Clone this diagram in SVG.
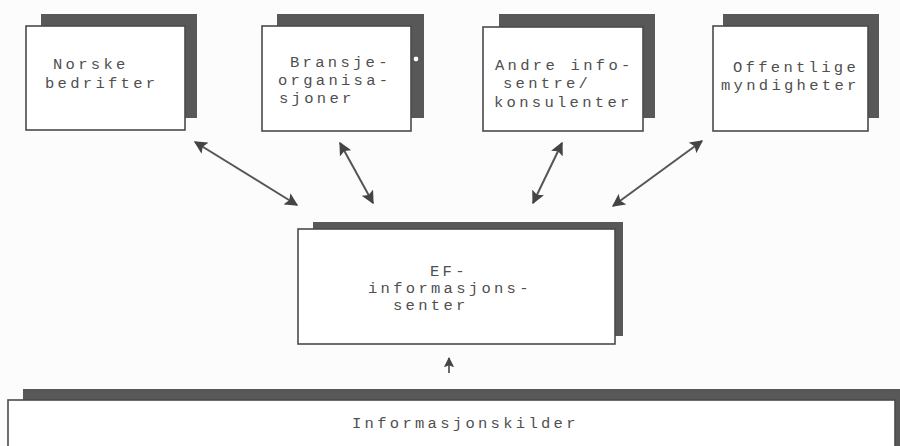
<svg xmlns="http://www.w3.org/2000/svg" width="900" height="446" viewBox="0 0 900 446">
<style>
.shadow{fill:#585858;}
.box{fill:#ffffff;stroke:#4a4a4a;stroke-width:1.6;}
.t{font-family:"Liberation Mono","DejaVu Sans Mono",monospace;font-size:15.5px;letter-spacing:3.3px;fill:#4f4f4f;}
.conn{stroke:#555;stroke-width:2;fill:none;marker-start:url(#ah);marker-end:url(#ah);}
.up{stroke:#444;stroke-width:1.6;fill:none;marker-end:url(#ah);}
</style>
<defs>
<marker id="ah" viewBox="0 0 10 10" refX="9" refY="5" markerWidth="6.5" markerHeight="6.5" orient="auto-start-reverse" markerUnits="strokeWidth">
<path d="M0,0 L10,5 L0,10 L2,5 Z" fill="#444"/>
</marker>
</defs>
<rect width="900" height="446" fill="#fcfcfc"/>

<g id="norske">
<rect class="shadow" x="41" y="14" width="156" height="104"/>
<rect class="box" x="26" y="26" width="159" height="104"/>
<text class="t" x="53" y="69">Norske</text>
<text class="t" x="45" y="88">bedrifter</text>
</g>

<g id="bransje">
<rect class="shadow" x="277" y="14" width="147" height="104"/>
<rect class="box" x="262" y="26" width="149" height="105"/>
<text class="t" x="290" y="67">Bransje-</text>
<text class="t" x="278" y="85">organisa-</text>
<text class="t" x="279" y="103">sjoner</text>
<circle cx="416" cy="59" r="3" fill="#fff" stroke="#555" stroke-width="1.2"/>
</g>

<g id="andre">
<rect class="shadow" x="499" y="14" width="156" height="104"/>
<rect class="box" x="483" y="27" width="160" height="104"/>
<text class="t" x="495" y="70">Andre info-</text>
<text class="t" x="503" y="88">sentre/</text>
<text class="t" x="494" y="107">konsulenter</text>
</g>

<g id="offentlige">
<rect class="shadow" x="723" y="14" width="156" height="104"/>
<rect class="box" x="713" y="26" width="155" height="105"/>
<text class="t" x="733" y="72">Offentlige</text>
<text class="t" x="721" y="90">myndigheter</text>
</g>

<g id="ef">
<rect class="shadow" x="313" y="222" width="310" height="114"/>
<rect class="box" x="298" y="229" width="317" height="115"/>
<text class="t" x="430" y="276">EF-</text>
<text class="t" x="368" y="293">informasjons-</text>
<text class="t" x="393" y="310">senter</text>
</g>

<g id="kilder">
<rect class="shadow" x="23" y="389" width="885" height="70"/>
<rect class="box" x="8" y="400" width="887" height="60"/>
<text class="t" x="352" y="428">Informasjonskilder</text>
</g>

<g id="connectors">
<line class="conn" x1="195" y1="142" x2="297" y2="205"/>
<line class="conn" x1="340" y1="143" x2="373" y2="203"/>
<line class="conn" x1="562" y1="143" x2="533" y2="203"/>
<line class="conn" x1="702" y1="141" x2="613" y2="206"/>
<line class="up" x1="449" y1="373" x2="449" y2="358"/>
</g>
</svg>
